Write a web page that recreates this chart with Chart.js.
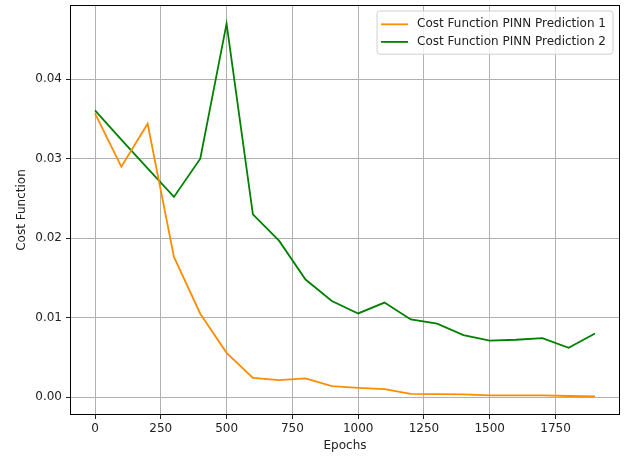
<!DOCTYPE html>
<html>
<head>
<meta charset="utf-8">
<script src="https://cdn.jsdelivr.net/npm/chart.js@4/dist/chart.umd.min.js"></script>
<style>
html,body{margin:0;padding:0;background:#fff;}
#wrap{width:634px;height:456px;}
</style>
</head>
<body>
<div id="wrap"><canvas id="c" width="634" height="456"></canvas></div>
<script>
const epochs = [0,100,200,300,400,500,600,700,800,900,1000,1100,1200,1300,1400,1500,1600,1700,1800,1900];
const pred1 = [0.0357,0.0290,0.0344,0.01765,0.0105,0.00557,0.00243,0.00214,0.00235,0.00138,0.00117,0.00100,0.00042,0.00038,0.00035,0.00022,0.00022,0.00021,0.00014,0.00008];
const pred2 = [0.0361,0.0324,0.0288,0.0252,0.0300,0.0470,0.0230,0.01966,0.0148,0.0121,0.01053,0.0119,0.00977,0.00925,0.0078,0.00712,0.00722,0.00742,0.0062,0.0080];
const xTicks = [0,250,500,750,1000,1250,1500,1750];
const yTicks = [0.00,0.01,0.02,0.03,0.04];
const seriesLabels = ['Cost Function PINN Prediction 1','Cost Function PINN Prediction 2'];
const seriesColors = ['#ff8c00','#008000'];

const FONT = "'DejaVu Sans', sans-serif";

const framePlugin = {
  id: 'frame',
  afterDatasetsDraw(chart) {
    const {ctx, chartArea: a} = chart;
    ctx.save();
    ctx.strokeStyle = '#000';
    ctx.lineWidth = 1;
    ctx.strokeRect(Math.round(a.left) + 0.5, Math.round(a.top) + 0.5, Math.round(a.right - a.left) - 1, Math.round(a.bottom - a.top) - 1);
    ctx.restore();
  },
  afterDraw(chart) {
    const {ctx, chartArea: a} = chart;
    const ds = chart.data.datasets;
    ctx.save();
    ctx.font = '12px ' + FONT;
    let maxW = 0;
    ds.forEach(d => { maxW = Math.max(maxW, ctx.measureText(d.label).width); });
    const lineLen = 27, gap = 9, padX = 4, rowH = 17.6, padY = 4;
    const w = padX + lineLen + gap + maxW + padX + 3;
    const h = padY * 2 + rowH * ds.length;
    const right = a.right - 7, top = a.top + 6;
    const left = right - w;
    const r = 3;
    ctx.beginPath();
    ctx.moveTo(left + r, top);
    ctx.lineTo(right - r, top);
    ctx.quadraticCurveTo(right, top, right, top + r);
    ctx.lineTo(right, top + h - r);
    ctx.quadraticCurveTo(right, top + h, right - r, top + h);
    ctx.lineTo(left + r, top + h);
    ctx.quadraticCurveTo(left, top + h, left, top + h - r);
    ctx.lineTo(left, top + r);
    ctx.quadraticCurveTo(left, top, left + r, top);
    ctx.closePath();
    ctx.fillStyle = 'rgba(255,255,255,0.8)';
    ctx.fill();
    ctx.strokeStyle = '#d0d0d0';
    ctx.lineWidth = 1;
    ctx.stroke();
    ds.forEach((d, i) => {
      const cy = top + padY + rowH * i + rowH / 2 + 0.5;
      ctx.strokeStyle = d.borderColor;
      ctx.lineWidth = 1.8;
      ctx.beginPath();
      ctx.moveTo(left + padX, cy);
      ctx.lineTo(left + padX + lineLen, cy);
      ctx.stroke();
      ctx.fillStyle = '#222';
      ctx.textBaseline = 'middle';
      ctx.textAlign = 'left';
      ctx.fillText(d.label, left + padX + lineLen + gap, cy);
    });
    ctx.restore();
  }
};

new Chart(document.getElementById('c'), {
  type: 'line',
  data: {
    datasets: [
      { label: seriesLabels[0], data: epochs.map((x, i) => ({x, y: pred1[i]})), borderColor: seriesColors[0], backgroundColor: seriesColors[0], borderWidth: 1.8, pointRadius: 0, tension: 0, fill: false },
      { label: seriesLabels[1], data: epochs.map((x, i) => ({x, y: pred2[i]})), borderColor: seriesColors[1], backgroundColor: seriesColors[1], borderWidth: 1.8, pointRadius: 0, tension: 0, fill: false }
    ]
  },
  options: {
    responsive: false,
    animation: false,
    devicePixelRatio: 1,
    layout: { padding: { left: 0, right: 14, top: 5, bottom: 0 } },
    plugins: { legend: { display: false }, tooltip: { enabled: false } },
    scales: {
      x: {
        type: 'linear',
        min: -95, max: 1995,
        afterBuildTicks: s => { s.ticks = xTicks.map(v => ({value: v})); },
        afterFit: s => { s.height = 41; s.paddingLeft = 0; s.paddingRight = 0; },
        grid: { color: '#b0b0b0', lineWidth: 1, tickColor: '#222', tickLength: 4, drawTicks: true },
        border: { display: false },
        ticks: { color: '#222', font: { family: FONT, size: 12 }, padding: 3, maxRotation: 0, autoSkip: false, callback: v => String(v) },
        title: { display: true, text: 'Epochs', color: '#222', font: { family: FONT, size: 12 }, padding: { top: 0, bottom: 3 } }
      },
      y: {
        type: 'linear',
        min: -0.00225, max: 0.04935,
        afterBuildTicks: s => { s.ticks = yTicks.map(v => ({value: v})); },
        afterFit: s => { s.width = 70; s.paddingTop = 0; s.paddingBottom = 0; },
        grid: { color: '#b0b0b0', lineWidth: 1, tickColor: '#222', tickLength: 4, drawTicks: true },
        border: { display: false },
        ticks: { color: '#222', font: { family: FONT, size: 12 }, padding: 4, autoSkip: false, callback: v => v.toFixed(2) },
        title: { display: true, text: 'Cost Function', color: '#222', font: { family: FONT, size: 12 }, padding: { top: 15, bottom: 0 } }
      }
    }
  },
  plugins: [framePlugin]
});
</script>
</body>
</html>
